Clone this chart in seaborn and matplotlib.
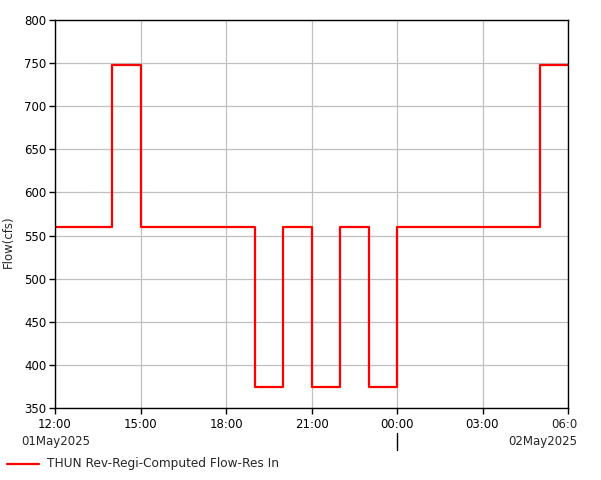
import numpy as np
import pandas as pd
import seaborn as sns
import matplotlib.pyplot as plt
from matplotlib.transforms import Bbox

# hourly flow values, held until the next hour (step-post)
times = pd.date_range('2025-05-01 12:00', '2025-05-02 06:00', freq='h')
flow = [560, 560, 748, 560, 560, 560, 560, 374, 560, 374, 560, 374,
        560, 560, 560, 560, 560, 748, 748]
series_name = 'THUN Rev-Regi-Computed Flow-Res In'
tick_labels = ['12:00', '15:00', '18:00', '21:00', '00:00', '03:00', '06:00']
y_ticks = [350, 400, 450, 500, 550, 600, 650, 700, 750, 800]

frame = pd.DataFrame({'time': times, 'flow': flow})

sns.set_style('white')
plt.rcParams['font.family'] = ['DejaVu Sans']

fig = plt.figure(figsize=(6.01, 4.8), dpi=100)
ax = fig.add_axes([55 / 601, 1 - 408 / 480, 513 / 601, 388 / 480])

sns.lineplot(data=frame, x='time', y='flow', ax=ax, color='#ff0000',
             linewidth=1.6, drawstyle='steps-post')

ax.set_xlim(times[0], times[-1])
ax.set_ylim(350, 800)
ax.set_yticks(y_ticks)
ax.set_xticks(times[::3])
# last label is cut off at the canvas edge in the original
ax.set_xticklabels(tick_labels[:-1] + [''])
ax.grid(True, color='#c0c0c0', linewidth=0.9)
for s in ax.spines.values():
    s.set_color('black')
    s.set_linewidth(1.0)
ax.tick_params(axis='both', direction='out', length=4, width=1,
               colors='black', labelsize=8.5, pad=2, bottom=True, left=True)
ax.tick_params(axis='x', pad=3)
ax.set_xlabel('')
ax.set_ylabel('')

last = fig.text(568 / 601, 1 - 424 / 480, tick_labels[-1], ha='center', va='center', fontsize=8.5)
last.set_clip_box(Bbox.from_extents(0, 0, 577, 480))
last.set_clip_on(True)

# date row under the time ticks
fig.text(56 / 601, 1 - 441 / 480, '01May2025', ha='center', va='center', fontsize=8.5)
fig.text(577 / 601, 1 - 441 / 480, '02May2025', ha='right', va='center', fontsize=8.5)
fig.add_artist(plt.Line2D([397 / 601, 397 / 601], [1 - 433 / 480, 1 - 450 / 480],
                          color='black', linewidth=1))

fig.text(8 / 601, 1 - 242 / 480, 'Flow(cfs)', rotation=90, ha='center', va='center', fontsize=8.5)

# legend entry at the bottom
fig.add_artist(plt.Line2D([7 / 601, 39 / 601], [1 - 464 / 480, 1 - 464 / 480],
                          color='#ff0000', linewidth=1.6))
fig.text(47 / 601, 1 - 464 / 480, series_name, ha='left', va='center', fontsize=8.7)

fig.savefig('out.png', dpi=100)
